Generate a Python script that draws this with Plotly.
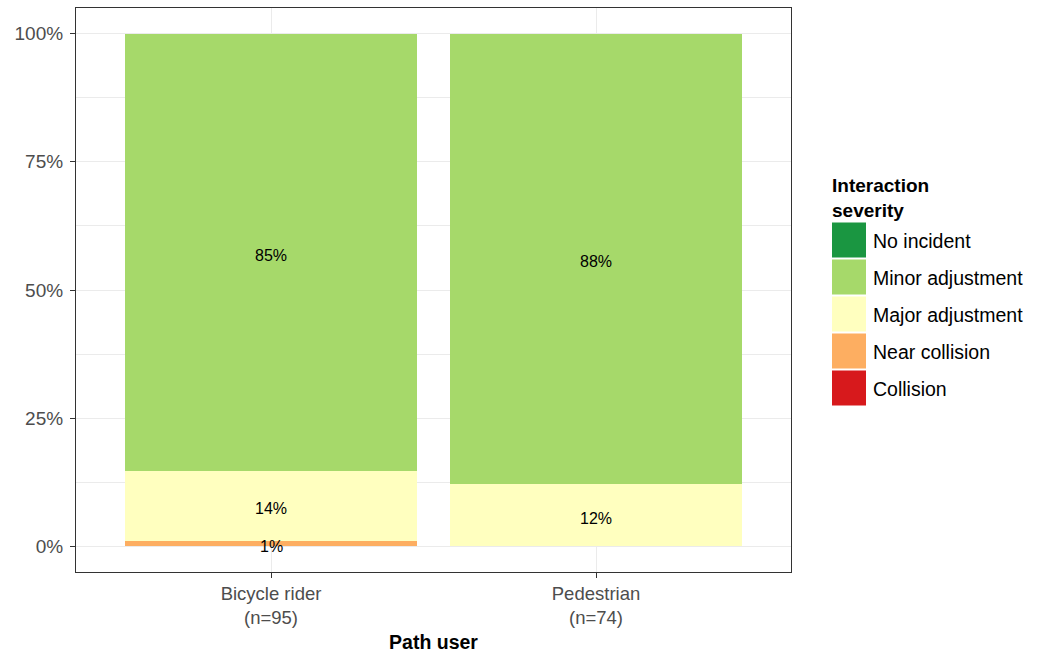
import plotly.graph_objects as go

# ---- data ----
categories = ["Bicycle rider", "Pedestrian"]
n_counts = [95, 74]
levels = ["No incident", "Minor adjustment", "Major adjustment", "Near collision", "Collision"]
colors = ["#1a9641", "#a6d96a", "#ffffbf", "#fdae61", "#d7191c"]
# percentages per level per category
pct_no_incident = [0.0, 0.0]
pct_minor = [85.26, 87.84]
pct_major = [13.68, 12.16]
pct_near = [1.05, 0.0]
pct_collision = [0.0, 0.0]
series = [pct_no_incident, pct_minor, pct_major, pct_near, pct_collision]

tick_labels = [f"{c}<br>(n={n})" for c, n in zip(categories, n_counts)]

FONT = "Liberation Sans, Arial, sans-serif"
W, H = 1041, 653
L, R, T, B = 76, 250, 8, 81
pw, ph = W - L - R, H - T - B

def px_x(x):
    return (x - L) / pw

def px_y(y):
    return 1 - (y - T) / ph

fig = go.Figure()

# stack: bottom is last level
for lvl, col, vals in reversed(list(zip(levels, colors, series))):
    fig.add_trace(go.Bar(
        x=tick_labels, y=vals, name=lvl, marker=dict(color=col, line=dict(width=0)),
        width=0.9, showlegend=False, hoverinfo="skip",
    ))

# labels at segment midpoints
for ci, cat in enumerate(tick_labels):
    base = 0.0
    for vals in reversed(series):
        v = vals[ci]
        if v > 0:
            fig.add_annotation(
                x=cat, y=base + v / 2, xref="x", yref="y", text=f"{round(v):.0f}%",
                showarrow=False, yshift=-3,
                font=dict(family=FONT, size=16, color="black"),
            )
        base += v

# legend drawn manually
fig.add_annotation(
    x=px_x(830), y=px_y(173), xref="paper", yref="paper",
    text="<b>Interaction<br>severity</b>", showarrow=False, xanchor="left", yanchor="top",
    align="left", font=dict(family=FONT, size=19, color="black"),
)
for i, (lvl, col) in enumerate(zip(levels, colors)):
    cy = 240 + i * 37
    fig.add_shape(
        type="rect", xref="paper", yref="paper",
        x0=px_x(832), x1=px_x(866), y0=px_y(cy - 17.5), y1=px_y(cy + 17.5),
        fillcolor=col, line=dict(width=0),
    )
    fig.add_annotation(
        x=px_x(871), y=px_y(cy + 1), xref="paper", yref="paper", text=lvl,
        showarrow=False, xanchor="left", yanchor="middle",
        font=dict(family=FONT, size=19.5, color="black"),
    )

fig.update_layout(
    width=W, height=H, barmode="stack",
    margin=dict(l=L, r=R, t=T, b=B, pad=0, autoexpand=False),
    paper_bgcolor="white", plot_bgcolor="white",
    bargap=0.1,
    font=dict(family=FONT),
)
fig.update_xaxes(
    range=[-0.6, 1.6], showgrid=True, gridcolor="#ebebeb", gridwidth=1.1,
    ticks="outside", ticklen=5, tickcolor="#333333", tickwidth=1.1,
    tickfont=dict(size=18.5, color="#4d4d4d"),
    showline=True, linecolor="#333333", linewidth=1.1, mirror=True,
    title=dict(text="<b>Path user</b>", font=dict(size=19.5, color="black"), standoff=8),
    zeroline=False, automargin=False,
)
fig.update_yaxes(
    range=[-5, 105], tickvals=[0, 25, 50, 75, 100],
    ticktext=["0%", "25%", "50%", "75%", "100%"],
    showgrid=True, gridcolor="#ebebeb", gridwidth=1.1,
    minor=dict(tickvals=[12.5, 37.5, 62.5, 87.5], showgrid=True, gridcolor="#ebebeb", gridwidth=0.6, ticks=""),
    ticks="outside", ticklen=5, tickcolor="#333333", tickwidth=1.1,
    tickfont=dict(size=19, color="#4d4d4d"), ticklabelstandoff=3,
    showline=True, linecolor="#333333", linewidth=1.1, mirror=True,
    zeroline=False, automargin=False,
)

fig.write_html(
    "out.html",
    config={"displayModeBar": False},
    post_script="document.body.style.margin='0';document.body.style.overflow='hidden';",
)
